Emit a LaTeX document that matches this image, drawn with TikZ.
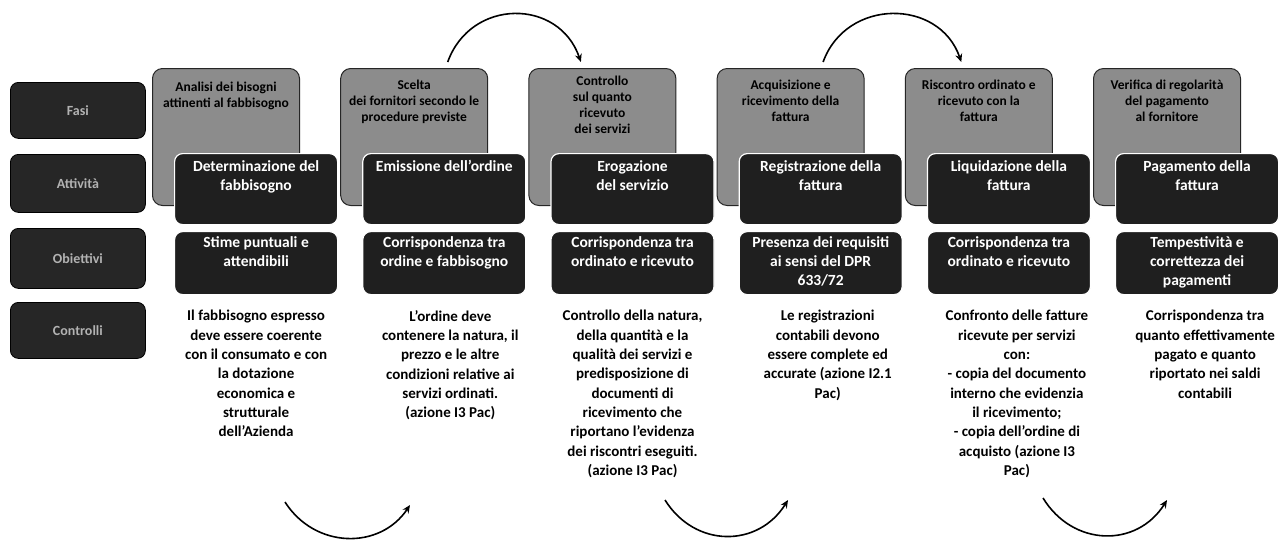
\documentclass[tikz,border=0pt]{standalone}
\usepackage{fontspec}
\setmainfont{Carlito}
\usetikzlibrary{arrows.meta,calc}
% top-aligned text block of fixed size inside a box
\newcommand\boxfill[4]{\parbox[c][#2][t]{#1}{\centering\vspace*{#3}#4\par}}
\begin{document}
\begin{tikzpicture}[x=1pt,y=-1pt,
  sidebox/.style={fill=black!85,draw=black,line width=0.8pt,rounded corners=8pt,
    minimum width=135pt,anchor=north west,inner sep=0pt,text=gray!60,
    font=\bfseries\fontsize{14}{17}\selectfont},
  stagebox/.style={fill=black!45,draw=black!85,line width=1pt,rounded corners=10pt,
    anchor=north west,inner sep=0pt,font=\bfseries\fontsize{13.5}{16}\selectfont},
  actbox/.style={fill=black!88,draw=white,line width=1.2pt,rounded corners=8pt,
    anchor=north west,inner sep=0pt,text=white,
    font=\bfseries\fontsize{15.5}{19}\selectfont},
  note/.style={anchor=north,align=center,inner sep=0pt,
    font=\bfseries\fontsize{15}{19.3}\selectfont},
  flow/.style={line width=1.6pt,-{Stealth[length=8pt,width=7pt]}}
]
\fill[white] (0,0) rectangle (1279,542);
\useasboundingbox (0,0) rectangle (1279,542);

% row headers
\node[sidebox,minimum height=56pt] (s1) at (10,82)  {Fasi};
\node[sidebox,minimum height=58pt] (s2) at (10,154) {Attività};
\node[sidebox,minimum height=60pt] (s3) at (10,228) {Obiettivi};
\node[sidebox,minimum height=56pt] (s4) at (10,302) {Controlli};

% stages (grey boxes)
\node[stagebox] (t1) at (152,68)    {\boxfill{147pt}{137pt}{14pt}{Analisi dei bisogni\\attinenti al fabbisogno}};
\node[stagebox] (t2) at (340.2,68)  {\boxfill{147pt}{137pt}{12pt}{Scelta\\dei fornitori secondo le\\procedure previste}};
\node[stagebox] (t3) at (528.4,68)  {\boxfill{147pt}{137pt}{8pt}{Controllo\\sul quanto\\ricevuto\\dei servizi}};
\node[stagebox] (t4) at (716.6,68)  {\boxfill{147pt}{137pt}{12pt}{Acquisizione e\\ricevimento della\\fattura}};
\node[stagebox] (t5) at (904.8,68)  {\boxfill{147pt}{137pt}{12pt}{Riscontro ordinato e\\ricevuto con la\\fattura}};
\node[stagebox] (t6) at (1093,68)   {\boxfill{147pt}{137pt}{12pt}{Verifica di regolarità\\del pagamento\\al fornitore}};

% activities
\node[actbox] (a1) at (174,153)    {\boxfill{163pt}{71pt}{7pt}{Determinazione del\\fabbisogno}};
\node[actbox] (a2) at (362.2,153)  {\boxfill{163pt}{71pt}{7pt}{Emissione dell'ordine}};
\node[actbox] (a3) at (550.4,153)  {\boxfill{163pt}{71pt}{7pt}{Erogazione\\del servizio}};
\node[actbox] (a4) at (738.6,153)  {\boxfill{163pt}{71pt}{7pt}{Registrazione della\\fattura}};
\node[actbox] (a5) at (926.8,153)  {\boxfill{163pt}{71pt}{7pt}{Liquidazione della\\fattura}};
\node[actbox] (a6) at (1115,153)   {\boxfill{163pt}{71pt}{7pt}{Pagamento della\\fattura}};

% objectives
\node[actbox] (c1) at (174,231)    {\boxfill{163pt}{63pt}{5pt}{Stime puntuali e\\attendibili}};
\node[actbox] (c2) at (362.2,231)  {\boxfill{163pt}{63pt}{5pt}{Corrispondenza tra\\ordine e fabbisogno}};
\node[actbox] (c3) at (550.4,231)  {\boxfill{163pt}{63pt}{5pt}{Corrispondenza tra\\ordinato e ricevuto}};
\node[actbox] (c4) at (738.6,231)  {\boxfill{163pt}{63pt}{5pt}{Presenza dei requisiti\\ai sensi del DPR\\633/72}};
\node[actbox] (c5) at (926.8,231)  {\boxfill{163pt}{63pt}{5pt}{Corrispondenza tra\\ordinato e ricevuto}};
\node[actbox] (c6) at (1115,231)   {\boxfill{163pt}{63pt}{5pt}{Tempestività e\\correttezza dei\\pagamenti}};

% controls
\node[note] (n1) at ($(c1.south)+(0,15)$)  {Il fabbisogno espresso\\deve essere coerente\\con il consumato e con\\la dotazione\\economica e\\strutturale\\dell'Azienda};
\node[note] (n2) at ($(c2.south)+(6,15)$)  {L'ordine deve\\contenere la natura, il\\prezzo e le altre\\condizioni relative ai\\servizi ordinati.\\(azione I3 Pac)};
\node[note] (n3) at ($(c3.south)+(0,15)$)  {Controllo della natura,\\della quantità e la\\qualità dei servizi e\\predisposizione di\\documenti di\\ricevimento che\\riportano l'evidenza\\dei riscontri eseguiti.\\(azione I3 Pac)};
\node[note] (n4) at ($(c4.south)+(7,15)$)  {Le registrazioni\\contabili devono\\essere complete ed\\accurate (azione I2.1\\Pac)};
\node[note] (n5) at ($(c5.south)+(8,15)$)  {Confronto delle fatture\\ricevute per servizi\\con:\\- copia del documento\\interno che evidenzia\\il ricevimento;\\- copia dell'ordine di\\acquisto (azione I3\\Pac)};
\node[note] (n6) at ($(c6.south)+(8,15)$) {Corrispondenza tra\\quanto effettivamente\\pagato e quanto\\riportato nei saldi\\contabili};

% curved flow arrows above the stages
\draw[flow] ($(t2.north)+(33.5,-6)$) .. controls +(23,-64) and +(-22,-64) .. ($(t3.north)+(-21.5,-6)$);
\draw[flow] ($(t4.north)+(32.5,-6)$) .. controls +(23,-64) and +(-22,-64) .. ($(t5.north)+(-17.5,-6)$);

% curved flow arrows below the controls
\coordinate (b1s) at (285,502);  \coordinate (b1e) at (410,505);
\coordinate (b2s) at (665,500);  \coordinate (b2e) at (788,500);
\coordinate (b3s) at (1043,498); \coordinate (b3e) at (1167,500);
\draw[flow] (b1s) .. controls +(30,47) and +(-30,45) .. (b1e);
\draw[flow] (b2s) .. controls +(30,48) and +(-30,48) .. (b2e);
\draw[flow] (b3s) .. controls +(30,49) and +(-30,48) .. (b3e);
\end{tikzpicture}
\end{document}
